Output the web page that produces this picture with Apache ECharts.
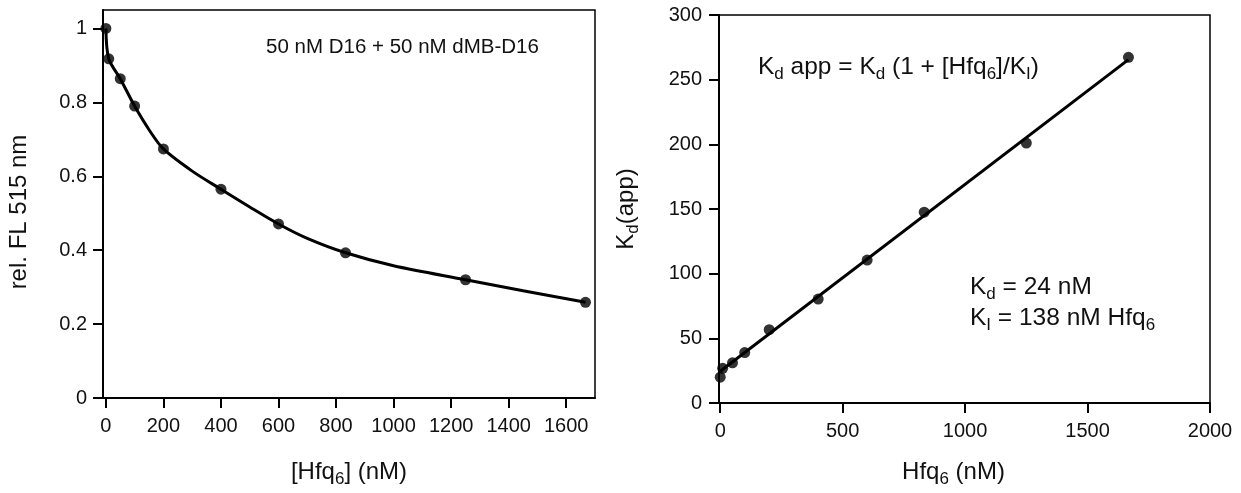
<!DOCTYPE html>
<html><head><meta charset="utf-8">
<script src="https://cdn.jsdelivr.net/npm/echarts@6/dist/echarts.min.js"></script>
<style>html,body{margin:0;padding:0;background:#fff}#c{width:1241px;height:493px}</style>
</head><body><div id="c"></div>
<script>
// ---- data ----
// left panel: measured points
const leftX = [0, 10, 50, 100, 200, 400, 600, 833, 1250, 1667];
const leftY = [1.0, 0.918, 0.864, 0.790, 0.674, 0.565, 0.471, 0.393, 0.320, 0.259];
// left panel: fitted curve
const curveX = [0, 10, 50, 100, 150, 200, 300, 400, 500, 600, 700, 833, 1000, 1250, 1450, 1667];
const curveY = [1.0, 0.918, 0.864, 0.790, 0.726, 0.674, 0.614, 0.565, 0.517, 0.471, 0.432, 0.393, 0.358, 0.320, 0.290, 0.259];
// right panel: measured points
const rightX = [0, 10, 50, 100, 200, 400, 600, 833, 1250, 1667];
const rightY = [20, 26.8, 31.1, 39, 56.7, 80.4, 110.5, 147.5, 201, 267.3];
// right panel: fitted line
const fitX = [0, 1667];
const fitY = [24.5, 265.5];
// tick values
const leftXTicks = [0, 200, 400, 600, 800, 1000, 1200, 1400, 1600];
const leftYTicks = [0, 0.2, 0.4, 0.6, 0.8, 1];
const rightXTicks = [0, 500, 1000, 1500, 2000];
const rightYTicks = [0, 50, 100, 150, 200, 250, 300];

const FONT = '"Liberation Sans", Arial, Helvetica, sans-serif';
const INK = '#111';
const zip = (a, b) => a.map((v, i) => [v, b[i]]);
const plain = v => String(v);

const SUB = { fontSize: 17, lineHeight: 17, verticalAlign: 'bottom', fontFamily: FONT, color: INK };

function valueAxis(gridIndex, min, max, ticks, margin, extra) {
  return Object.assign({
    type: 'value', gridIndex, min, max,
    axisLine: { show: true, onZero: false, lineStyle: { color: '#000', width: 2 } },
    axisTick: { show: true, length: 10, inside: false, customValues: ticks, lineStyle: { color: '#000', width: 2 } },
    axisLabel: { customValues: ticks, fontSize: 20, fontFamily: FONT, color: INK, margin, formatter: plain },
    splitLine: { show: false },
    nameLocation: 'middle'
  }, extra);
}

const chart = echarts.init(document.getElementById('c'), null, { renderer: 'canvas' });
const option = {
  backgroundColor: '#fff',
  animation: false,
  grid: [
    { left: 103, top: 10, width: 492, height: 392, show: true, borderColor: '#000', borderWidth: 1.5, backgroundColor: 'transparent' },
    { left: 719, top: 15, width: 491, height: 392, show: true, borderColor: '#000', borderWidth: 1.5, backgroundColor: 'transparent' }
  ],
  xAxis: [
    valueAxis(0, -10, 1700, leftXTicks, 18, {
      name: '[Hfq{s|6}] (nM)', nameGap: 58,
      nameTextStyle: { fontSize: 24, fontFamily: FONT, color: INK, lineHeight: 32, rich: { s: SUB } }
    }),
    valueAxis(1, -5, 2000, rightXTicks, 18, {
      name: 'Hfq{s|6} (nM)', nameGap: 53,
      nameTextStyle: { fontSize: 24, fontFamily: FONT, color: INK, lineHeight: 32, padding: [0, 22, 0, 0], rich: { s: SUB } }
    })
  ],
  yAxis: [
    valueAxis(0, 0, 1.05, leftYTicks, 16, {
      name: 'rel. FL 515 nm', nameGap: 68,
      nameTextStyle: { fontSize: 24, fontFamily: FONT, color: INK, lineHeight: 32, padding: [0, 16, 0, 0] }
    }),
    valueAxis(1, 0, 300, rightYTicks, 17, {
      name: 'K{s|d}(app)', nameGap: 77,
      nameTextStyle: { fontSize: 24, fontFamily: FONT, color: INK, lineHeight: 32, rich: { s: SUB } }
    })
  ],
  series: [
    { type: 'line', xAxisIndex: 0, yAxisIndex: 0, data: zip(curveX, curveY), smooth: 0.3,
      showSymbol: false, lineStyle: { color: '#000', width: 3 }, z: 2 },
    { type: 'scatter', xAxisIndex: 0, yAxisIndex: 0, data: zip(leftX, leftY), symbol: 'circle', symbolSize: 11,
      itemStyle: { color: '#000' }, z: 3 },
    { type: 'line', xAxisIndex: 1, yAxisIndex: 1, data: zip(fitX, fitY), showSymbol: false,
      lineStyle: { color: '#000', width: 3 }, z: 2 },
    { type: 'scatter', xAxisIndex: 1, yAxisIndex: 1, data: zip(rightX, rightY), symbol: 'circle', symbolSize: 11,
      itemStyle: { color: '#000' }, z: 3 }
  ],
  graphic: [
    { type: 'text', x: 266, y: 47, style: { text: '50 nM D16 + 50 nM dMB-D16', fontSize: 20.5, fontFamily: FONT, fill: INK, verticalAlign: 'middle', align: 'left' } },
    { type: 'text', x: 758, y: 67, style: { text: 'K{s|d} app = K{s|d} (1 + [Hfq{s|6}]/K{s|I})', fontSize: 24.5, lineHeight: 32, fontFamily: FONT, fill: INK, verticalAlign: 'middle', align: 'left',
      rich: { s: { fontSize: 17, lineHeight: 17, verticalAlign: 'bottom', fontFamily: FONT, fill: INK } } } },
    { type: 'text', x: 970, y: 287, style: { text: 'K{s|d} = 24 nM', fontSize: 24.5, lineHeight: 32, fontFamily: FONT, fill: INK, verticalAlign: 'middle', align: 'left',
      rich: { s: { fontSize: 17, lineHeight: 17, verticalAlign: 'bottom', fontFamily: FONT, fill: INK } } } },
    { type: 'text', x: 970, y: 318, style: { text: 'K{s|I} = 138 nM Hfq{s|6}', fontSize: 24.5, lineHeight: 32, fontFamily: FONT, fill: INK, verticalAlign: 'middle', align: 'left',
      rich: { s: { fontSize: 17, lineHeight: 17, verticalAlign: 'bottom', fontFamily: FONT, fill: INK } } } }
  ]
};
chart.setOption(option);
</script>
</body></html>
